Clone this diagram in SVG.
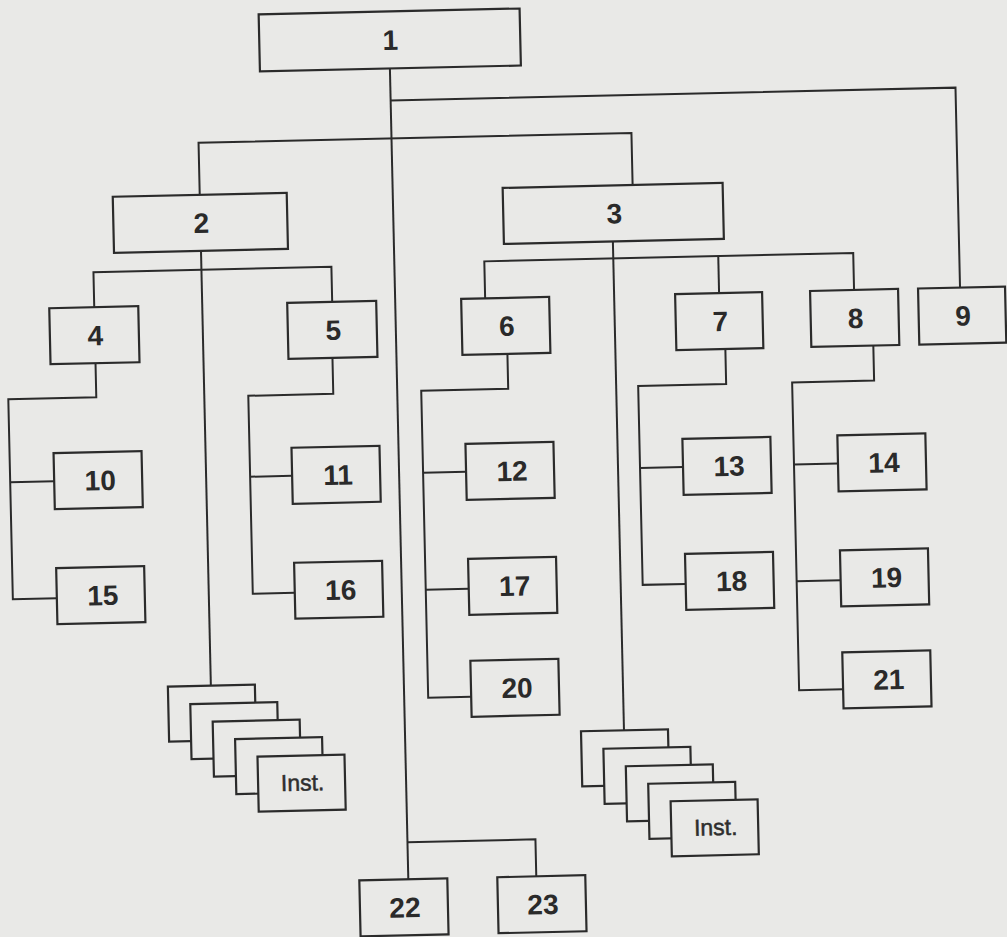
<svg xmlns="http://www.w3.org/2000/svg" width="1007" height="937" viewBox="0 0 1007 937">
  <style>
    .box { fill: #e9e9e7; stroke: #2b2b2b; stroke-width: 2.2; }
    .wire { fill: none; stroke: #2b2b2b; stroke-width: 2; }
    .num { font-family: "Liberation Sans", Arial, sans-serif; font-weight: bold; font-size: 28px; fill: #2a2a2a; text-anchor: middle; }
    .inst { font-family: "Liberation Sans", Arial, sans-serif; font-size: 23px; fill: #2e2e2e; stroke: #2e2e2e; stroke-width: 0.5; text-anchor: middle; }
  </style>
  <rect x="0" y="0" width="1007" height="937" fill="#e9e9e7"/>

  <!-- whole chart sits slightly skewed on the page -->
  <g transform="rotate(-1.3 503 468)">
    <g id="connectors" class="wire">
      <!-- main trunk from 1 down to 22 -->
      <path d="M399 66 V877"/>
      <path d="M399 98 H964 V298"/>
      <path d="M206 189 V136 H639 V188"/>
      <path d="M399 840 H527 V877"/>
      <!-- under 2 -->
      <path d="M206 244 V679"/>
      <path d="M98 299 V263 H336 V299"/>
      <path d="M98 354 V388 H10 V588 H54"/>
      <path d="M10 471 H54"/>
      <path d="M335 354 V390 H250 V588 H292"/>
      <path d="M250 471 H292"/>
      <!-- under 3 -->
      <path d="M618 243 V733"/>
      <path d="M489 298 V261 H858 V298"/>
      <path d="M723 261 V298"/>
      <path d="M510 354 V389 H423 V696 H466"/>
      <path d="M423 471 H466"/>
      <path d="M423 588 H466"/>
      <path d="M728 354 V389 H640 V588 H683"/>
      <path d="M640 471 H683"/>
      <path d="M876 354 V389 H794 V697 H838"/>
      <path d="M794 471 H838"/>
      <path d="M794 588 H838"/>
    </g>

    <g id="n1"><rect class="box" x="269" y="9" width="261" height="57"/><text class="num" x="400" y="47.5">1</text></g>
    <g id="n2"><rect class="box" x="119" y="188" width="174" height="56"/><text class="num" x="207" y="226">2</text></g>
    <g id="n3"><rect class="box" x="509" y="188" width="220" height="56"/><text class="num" x="620" y="226">3</text></g>

    <g id="n4"><rect class="box" x="53" y="298" width="89" height="56"/><text class="num" x="98.5" y="336">4</text></g>
    <g id="n5"><rect class="box" x="291" y="298" width="89" height="56"/><text class="num" x="336.5" y="336">5</text></g>
    <g id="n6"><rect class="box" x="465" y="298" width="88" height="56"/><text class="num" x="510" y="336">6</text></g>
    <g id="n7"><rect class="box" x="679" y="298" width="87" height="56"/><text class="num" x="723.5" y="336">7</text></g>
    <g id="n8"><rect class="box" x="814" y="298" width="88" height="56"/><text class="num" x="859" y="336">8</text></g>
    <g id="n9"><rect class="box" x="922" y="298" width="87" height="56"/><text class="num" x="966.5" y="336">9</text></g>

    <g id="n10"><rect class="box" x="54" y="443" width="88" height="56"/><text class="num" x="100" y="481">10</text></g>
    <g id="n11"><rect class="box" x="292" y="443" width="88" height="56"/><text class="num" x="338" y="481">11</text></g>
    <g id="n12"><rect class="box" x="466" y="443" width="88" height="56"/><text class="num" x="512" y="481">12</text></g>
    <g id="n13"><rect class="box" x="683" y="443" width="88" height="56"/><text class="num" x="729" y="481">13</text></g>
    <g id="n14"><rect class="box" x="838" y="443" width="88" height="56"/><text class="num" x="884" y="481">14</text></g>

    <g id="n15"><rect class="box" x="54" y="558" width="88" height="56"/><text class="num" x="100" y="596">15</text></g>
    <g id="n16"><rect class="box" x="292" y="558" width="88" height="56"/><text class="num" x="338" y="596">16</text></g>
    <g id="n17"><rect class="box" x="466" y="558" width="88" height="56"/><text class="num" x="512" y="596">17</text></g>
    <g id="n18"><rect class="box" x="683" y="558" width="88" height="56"/><text class="num" x="729" y="596">18</text></g>
    <g id="n19"><rect class="box" x="838" y="558" width="88" height="56"/><text class="num" x="884" y="596">19</text></g>

    <g id="n20"><rect class="box" x="466" y="660" width="88" height="56"/><text class="num" x="512" y="698">20</text></g>
    <g id="n21"><rect class="box" x="838" y="660" width="88" height="56"/><text class="num" x="884" y="698">21</text></g>

    <!-- fanned stack of institution cards under 2 -->
    <g id="inst-left">
      <rect class="box" x="163" y="679" width="87" height="55"/>
      <rect class="box" x="185" y="697" width="87" height="55"/>
      <rect class="box" x="207" y="715" width="87" height="55"/>
      <rect class="box" x="229" y="733" width="87" height="55"/>
      <rect class="box" x="251" y="751" width="87" height="55"/>
      <text class="inst" x="295.5" y="786">Inst.</text>
    </g>

    <!-- fanned stack of institution cards under 3 -->
    <g id="inst-right">
      <rect class="box" x="575" y="733" width="87" height="55"/>
      <rect class="box" x="597" y="751" width="87" height="55"/>
      <rect class="box" x="619" y="769" width="87" height="55"/>
      <rect class="box" x="641" y="787" width="87" height="55"/>
      <rect class="box" x="663" y="805" width="87" height="55"/>
      <text class="inst" x="707.5" y="840">Inst.</text>
    </g>

    <g id="n22"><rect class="box" x="350" y="877" width="88" height="56"/><text class="num" x="395" y="915">22</text></g>
    <g id="n23"><rect class="box" x="488" y="877" width="88" height="56"/><text class="num" x="533" y="915">23</text></g>
  </g>
</svg>
